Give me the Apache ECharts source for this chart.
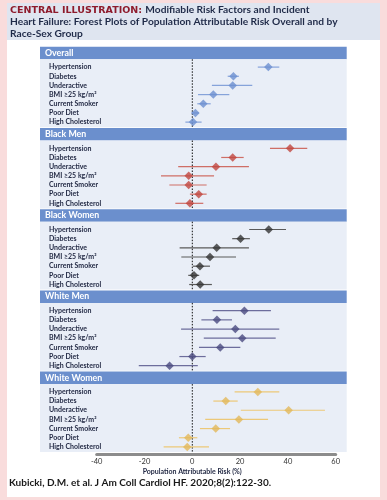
<!DOCTYPE html>
<html><head><meta charset="utf-8">
<script src="https://cdn.jsdelivr.net/npm/echarts@6/dist/echarts.min.js"></script>
<style>html,body{margin:0;padding:0;background:#fff}#c{width:387px;height:500px}</style>
</head><body><div id="c"></div>
<script>
// ---------- data ----------
const categories = ['Hypertension','Diabetes','Underactive','BMI \u226525 kg/m\u00b2','Current Smoker','Poor Diet','High Cholesterol'];
const groups = ['Overall','Black Men','Black Women','White Men','White Women'];
const xTicks = [-40,-20,0,20,40,60];

const overallEst = [31.8, 17.2, 16.9, 8.8, 4.6, 1.3, 0.3];
const overallLo  = [27.4, 14.8, 8.2, 2.4, 2.1, -0.3, -2.9];
const overallHi  = [36.4, 19.5, 25.1, 15.5, 7.7, 2.8, 3.9];

const blackMenEst = [40.9, 16.9, 9.9, -1.5, -1.5, 2.7, -1.0];
const blackMenLo  = [32.5, 12.1, -5.9, -13.1, -9.6, -1.0, -7.1];
const blackMenHi  = [48.1, 21.5, 23.7, 9.1, 6.0, 6.0, 4.6];

const blackWomenEst = [32.0, 20.2, 10.2, 7.4, 3.2, 0.7, 3.3];
const blackWomenLo  = [23.8, 16.7, -5.3, -4.6, 0.2, -1.7, -1.3];
const blackWomenHi  = [39.2, 24.1, 23.7, 18.3, 7.4, 2.9, 8.2];

const whiteMenEst = [21.8, 10.3, 18.0, 20.9, 11.7, 0.0, -9.5];
const whiteMenLo  = [8.5, 3.8, -4.7, 4.8, 2.8, -5.4, -22.4];
const whiteMenHi  = [32.9, 16.6, 36.4, 34.9, 20.1, 5.6, 2.3];

const whiteWomenEst = [27.4, 14.0, 40.3, 19.5, 9.8, -1.7, -2.1];
const whiteWomenLo  = [17.7, 8.8, 20.3, 5.4, 3.2, -5.6, -12.0];
const whiteWomenHi  = [36.4, 19.0, 55.5, 31.7, 15.8, 2.1, 7.0];

const estList = [overallEst, blackMenEst, blackWomenEst, whiteMenEst, whiteWomenEst];
const loList  = [overallLo, blackMenLo, blackWomenLo, whiteMenLo, whiteWomenLo];
const hiList  = [overallHi, blackMenHi, blackWomenHi, whiteMenHi, whiteWomenHi];

// ---------- styles / layout ----------
const markerColors = ['#6b8fd0','#c0463e','#333333','#4a4a80','#e2b85a'];
const lineColors   = ['#86a3da','#cf6e66','#5a5a5a','#6d6d9c','#ecc878'];
const panelTop0 = 46.8, pitch = 81.2, headerH = 12.5, row0 = 20.3, rowStep = 9.17;
const plotLeft = 96.7, plotWidth = 239;
const panelLeft = 40, panelWidth = 306.7;
const labelColor = '#1e2540';
const font = 'Lato, "Open Sans", sans-serif';

const grids = [], xAxes = [], yAxes = [], series = [], graphics = [];

graphics.push({type:'rect', shape:{x:7,y:3,width:373,height:494}, style:{fill:'#ffffff'}, z:0});
graphics.push({type:'rect', shape:{x:7,y:3,width:373,height:37}, style:{fill:'#dfe5f0'}, z:0});
graphics.push({type:'text', x:10, y:4.2, z:1, style:{
  text:'{a|CENTRAL ILLUSTRATION:} {b|Modifiable Risk Factors and Incident}\n{b|Heart Failure: Forest Plots of Population Attributable Risk Overall and by}\n{b|Race-Sex Group}',
  rich:{
    a:{fontFamily:'"DejaVu Sans", sans-serif', fontWeight:'bold', fontSize:9.5, fill:'#8e1b2c', lineHeight:11.8},
    b:{fontFamily:font, fontWeight:'bold', fontSize:10.2, fill:'#1f2a48', lineHeight:11.8}
  }
}});
graphics.push({type:'text', x:9, y:478, z:1, style:{
  text:'Kubicki, D.M. et al. J Am Coll Cardiol HF. 2020;8(2):122-30.',
  fontFamily:font, fontWeight:'bold', fontSize:10, fill:'#1a1a1a'
}});

groups.forEach((g, i) => {
  const pTop = panelTop0 + i * pitch;
  graphics.push({type:'rect', shape:{x:panelLeft, y:pTop, width:panelWidth, height:headerH}, style:{fill:'#6b8fcd'}, z:0});
  graphics.push({type:'rect', shape:{x:panelLeft, y:pTop+headerH, width:panelWidth, height:pitch-headerH-0.8}, style:{fill:'#e9eef7'}, z:0});
  graphics.push({type:'text', x:45, y:pTop+headerH/2, z:1, style:{text:g, fontFamily:font, fontWeight:'bold', fontSize:8.8, fill:'#ffffff', verticalAlign:'middle'}});

  const gTop = pTop + row0 - rowStep/2;
  grids.push({left:plotLeft, width:plotWidth, top:gTop, height:rowStep*7, containLabel:false});
  const last = i === groups.length - 1;
  xAxes.push({
    type:'value', gridIndex:i, min:xTicks[0], max:xTicks[xTicks.length-1], interval:20,
    splitLine:{show:false},
    axisLine:{show:last, onZero:false, lineStyle:{color:'#8c8c8c', width:3}},
    axisTick:{show:false},
    axisLabel:{show:last, fontFamily:font, fontSize:7.5, color:'#333', margin:3},
    offset: last ? 3 : 0,
    name: last ? 'Population Attributable Risk (%)' : '',
    nameLocation:'middle', nameGap:14,
    nameTextStyle:{fontFamily:font, fontWeight:'bold', fontSize:7, color:'#1e2540', padding:[0,48,0,0]}
  });
  yAxes.push({
    type:'category', gridIndex:i, data:categories, inverse:true,
    axisLine:{show:false}, axisTick:{show:false}, splitLine:{show:false},
    axisLabel:{align:'left', margin:plotLeft-49, fontFamily:font, fontWeight:'bold', fontSize:7, color:labelColor}
  });
  // zero reference line
  const bodyTopOffset = row0 - rowStep/2 - headerH;
  const bodyBottomExtra = last ? 1.5 : (pitch - 0.8) - (row0 + 6.5*rowStep);
  series.push({
    type:'custom', xAxisIndex:i, yAxisIndex:i, data:[[0]], silent:true, z:1,
    renderItem:(params, api) => {
      const x = api.coord([0, 0])[0];
      const cs = params.coordSys;
      return {type:'line', shape:{x1:x, y1:cs.y - bodyTopOffset, x2:x, y2:cs.y + cs.height + bodyBottomExtra},
        style:{stroke:'#111', lineWidth:1, lineDash:[1.5,1.5]}};
    }
  });
  // CI lines
  series.push({
    type:'custom', xAxisIndex:i, yAxisIndex:i, silent:true, z:2,
    data: categories.map((c, k) => [loList[i][k], hiList[i][k], k]),
    renderItem:(params, api) => {
      const p1 = api.coord([api.value(0), api.value(2)]);
      const p2 = api.coord([api.value(1), api.value(2)]);
      return {type:'line', shape:{x1:p1[0], y1:p1[1], x2:p2[0], y2:p2[1]}, style:{stroke:lineColors[i], lineWidth:1.2}};
    }
  });
  // point estimates
  series.push({
    type:'scatter', xAxisIndex:i, yAxisIndex:i, symbol:'diamond', symbolSize:[8.5,8.5], z:3,
    itemStyle:{color:markerColors[i]},
    data: categories.map((c, k) => [estList[i][k], k])
  });
});

const chart = echarts.init(document.getElementById('c'), null, {renderer:'canvas'});
chart.setOption({
  animation:false,
  backgroundColor:'#f9dcdc',
  grid:grids, xAxis:xAxes, yAxis:yAxes, series:series, graphic:graphics
});
</script></body></html>
